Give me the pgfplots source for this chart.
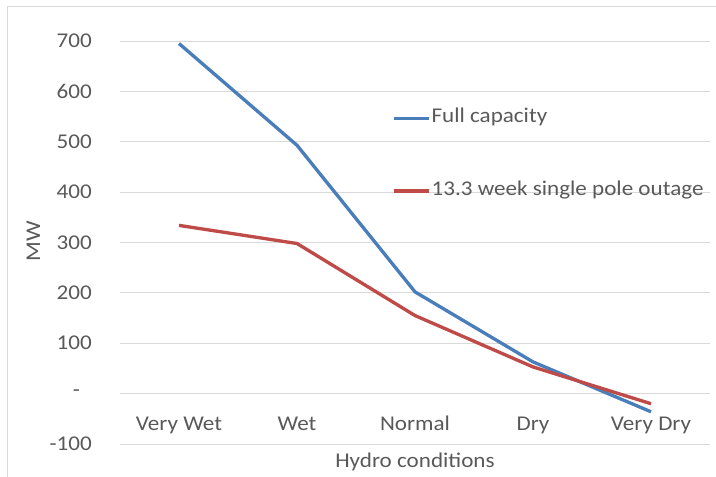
\documentclass[border=0pt]{standalone}
\usepackage{fontspec}
\setmainfont{Carlito}[FakeStretch=1.1]
\usepackage{pgfplots}
\pgfplotsset{compat=1.18}
\definecolor{fullblue}{RGB}{74,126,187}
\definecolor{outred}{RGB}{190,75,72}
\definecolor{txtgray}{RGB}{89,89,89}
\definecolor{gridgray}{RGB}{217,217,217}
\definecolor{bordergray}{RGB}{217,217,217}
\newcommand{\cf}{\fontsize{15.75}{19}\selectfont}
\begin{document}
\cf
\begin{tikzpicture}[font=\cf]
\useasboundingbox (0,0) rectangle (537pt,357pt);
\draw[bordergray, line width=0.75pt] (5.25pt,-10pt) rectangle (560pt,351.75pt);
\begin{axis}[
  at={(90pt,24pt)}, anchor=south west,
  scale only axis, width=442.5pt, height=302.25pt,
  xmin=-0.5, xmax=4.5, ymin=-100, ymax=700,
  xtick={0,1,2,3,4},
  xticklabels={Very Wet, Wet, Normal, Dry, Very Dry},
  ytick={-100,0,100,200,300,400,500,600,700},
  yticklabels={-100,{-\hphantom{0}},100,200,300,400,500,600,700},
  axis line style={draw=none},
  major tick length=0pt,
  ymajorgrids,
  grid style={gridgray, line width=0.75pt},
  ticklabel style={font=\cf, text=txtgray},
  xticklabel style={anchor=base, yshift=10pt},
  yticklabel style={anchor=east, inner sep=0pt, xshift=-21pt},
  /pgf/number format/assume math mode=true,
  ylabel={MW},
  ylabel style={at={(axis description cs:-0.1466,0.504)}, anchor=center, rotate=0, font=\cf, text=txtgray},
  xlabel={Hydro conditions},
  xlabel style={at={(axis description cs:0.5,-0.0447)}, anchor=center, font=\cf, text=txtgray},
  legend cell align=left,
  legend style={at={(axis description cs:0.461,0.718)}, anchor=west,
    draw=none, fill=none, inner sep=0pt, row sep=39pt,
    nodes={inner sep=1pt, text=txtgray, font=\cf, text height=0.65em, text depth=0.22em},
    /tikz/every even column/.style={column sep=1pt}},
  legend image code/.code={\draw[#1, line width=2.5pt] (0pt,0pt) -- (26pt,0pt);},
]
\addplot[fullblue, line width=2.5pt] coordinates {(0,695) (1,493) (2,202) (3,63) (4,-36)};
\addlegendentry{Full capacity}
\addplot[outred, line width=2.5pt] coordinates {(0,334) (1,298) (2,155) (3,53) (4,-20)};
\addlegendentry{13.3 week single pole outage}
\end{axis}
\end{tikzpicture}
\end{document}
